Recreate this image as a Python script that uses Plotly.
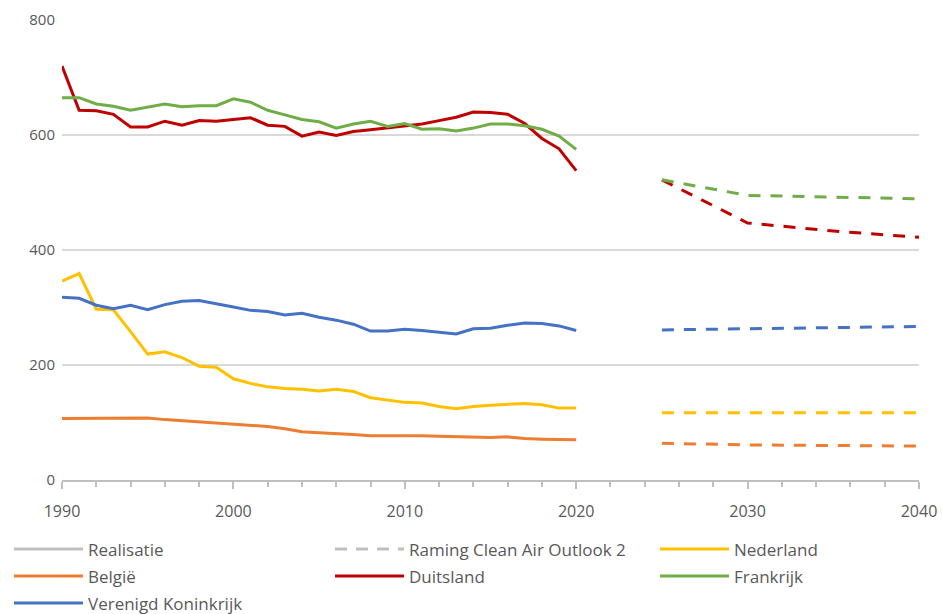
import plotly.graph_objects as go

# NOx-emissies (kton) per land, realisatie 1990-2020 en raming 2025-2040
years = list(range(1990, 2021))
proj_years = [2025, 2030, 2035, 2040]

nederland = [346, 359, 297, 296, 258, 219, 223, 213, 198, 196, 176, 168, 162, 159, 158, 155,
             158, 154, 143, 139, 135, 134, 128, 124, 128, 130, 131, 133, 131, 125, 125]
belgie = [107, 107, 107, 107, 108, 108, 105, 103, 101, 99, 97, 95, 93, 89, 84, 82,
          81, 79, 77, 77, 78, 77, 76, 75, 74, 74, 75, 72, 71, 70, 70]
duitsland = [720, 643, 642, 636, 614, 614, 624, 617, 625, 624, 627, 630, 617, 615, 598, 605,
             599, 606, 609, 612, 615, 619, 625, 631, 640, 639, 636, 620, 594, 576, 538]
frankrijk = [665, 665, 654, 650, 643, 649, 654, 649, 651, 651, 663, 657, 643, 635, 627, 623,
             612, 619, 624, 615, 620, 610, 611, 607, 612, 619, 619, 616, 610, 598, 575]
verenigd_koninkrijk = [318, 316, 304, 298, 304, 296, 305, 311, 312, 307, 301, 295, 293, 287, 290, 283,
                       278, 271, 259, 259, 262, 260, 257, 254, 263, 264, 269, 273, 272, 268, 260]

nederland_proj = [117, 117, 117, 117]
belgie_proj = [64, 61, 60, 59]
duitsland_proj = [522, 447, 433, 422]
frankrijk_proj = [522, 495, 492, 489]
verenigd_koninkrijk_proj = [261, 263, 265, 267]

countries = ['Nederland', 'België', 'Duitsland', 'Frankrijk', 'Verenigd Koninkrijk']
colors = ['#FFC000', '#ED7D31', '#C00000', '#70AD47', '#4472C4']
realised = [nederland, belgie, duitsland, frankrijk, verenigd_koninkrijk]
projected = [nederland_proj, belgie_proj, duitsland_proj, frankrijk_proj, verenigd_koninkrijk_proj]

legend_labels = ['Realisatie', 'Raming Clean Air Outlook 2', 'Nederland', 'België',
                 'Duitsland', 'Frankrijk', 'Verenigd Koninkrijk']
legend_colors = ['#BFBFBF', '#BFBFBF'] + colors
legend_dashes = ['solid', 'dash', 'solid', 'solid', 'solid', 'solid', 'solid']

text_color = '#595959'
font_family = 'Open Sans, Noto Sans, sans-serif'

fig = go.Figure()

for name, color, vals, proj in zip(countries, colors, realised, projected):
    fig.add_trace(go.Scatter(x=years, y=vals, mode='lines', name=name,
                             line=dict(color=color, width=3), showlegend=False))
    fig.add_trace(go.Scatter(x=proj_years, y=proj, mode='lines', name=name + ' (raming)',
                             line=dict(color=color, width=3, dash='12px,10px'),
                             showlegend=False))

# plot area in pixels
W, H = 942, 614
left, right, top, bottom = 62, 23, 20, 134
pw = W - left - right
ph = H - top - bottom

def px_x(x):
    return (x - left) / pw

def px_y(y):
    return (H - bottom - y) / ph

# hand-made legend (three columns, long line symbols)
col_x = [14, 335, 660]
row_y = [549, 576, 603]
for i, (label, color, dash) in enumerate(zip(legend_labels, legend_colors, legend_dashes)):
    cx = col_x[i % 3]
    cy = row_y[i // 3]
    fig.add_shape(type='line', xref='paper', yref='paper',
                  x0=px_x(cx), x1=px_x(cx + 69), y0=px_y(cy), y1=px_y(cy),
                  line=dict(color=color, width=3,
                            dash='12px,9px' if dash == 'dash' else 'solid'))
    fig.add_annotation(xref='paper', yref='paper', x=px_x(cx + 72), y=px_y(cy),
                       text=label, showarrow=False, xanchor='left', yanchor='middle',
                       font=dict(size=17, color=text_color, family=font_family))

fig.update_layout(
    width=W, height=H,
    margin=dict(l=left, r=right, t=top, b=bottom, autoexpand=False),
    plot_bgcolor='white',
    paper_bgcolor='white',
    font=dict(family=font_family, size=15, color=text_color),
    showlegend=False,
)

fig.update_xaxes(
    range=[1990, 2040], tickmode='linear', tick0=1990, dtick=10,
    automargin=False,
    showgrid=False, zeroline=False,
    showline=True, linecolor='#BFBFBF', linewidth=1.5,
    ticks='outside', ticklen=7, tickcolor='#BFBFBF', tickwidth=1.5,
    minor=dict(tickmode='linear', tick0=1990, dtick=2, ticks='outside',
               ticklen=5, tickcolor='#BFBFBF', tickwidth=1.5, showgrid=False),
    ticklabelstandoff=9,
    tickfont=dict(size=16, color=text_color),
)
fig.update_yaxes(
    range=[0, 800], tickmode='linear', tick0=0, dtick=200,
    automargin=False,
    showgrid=True, gridcolor='#D9D9D9', gridwidth=1.5,
    zeroline=False, showline=False, ticks='',
    ticklabelstandoff=6,
    tickfont=dict(size=15, color=text_color),
)

# drop the browser's default body margin so the figure fills the window
fig.write_html("out.html", config={'displayModeBar': False},
               post_script="document.body.style.margin='0';")
